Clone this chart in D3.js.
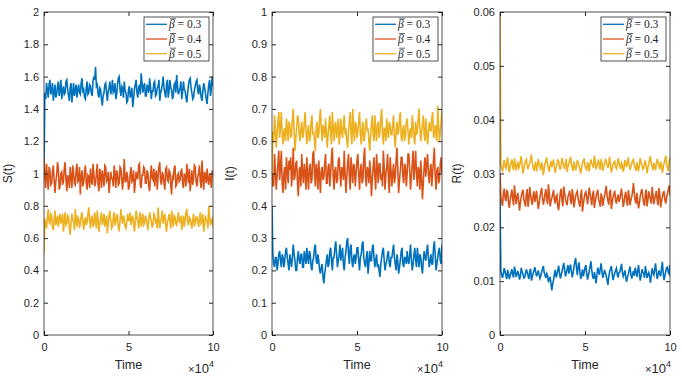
<!DOCTYPE html>
<html>
<head>
<meta charset="utf-8">
<script src="https://cdn.jsdelivr.net/npm/d3@7"></script>
<style>
body { margin: 0; background: #fff; }
text { font-family: "Liberation Sans", Arial, sans-serif; fill: #262626; }
</style>
</head>
<body>
<script>
// sample times (every 500 steps, 0 .. 1e5)
const nPts = 201
const tStep = 500

const legendLabels = ['0.3', '0.4', '0.5']
const colors = ['#0072BD', '#D95319', '#EDB120']

// S(t)
const sBlue = [1.00,
	1.50,1.46,1.56,1.52,1.47,1.55,1.58,1.49,1.51,1.56,1.45,1.50,1.55,1.47,1.49,1.54,1.57,1.48,1.52,1.58,
	1.46,1.51,1.54,1.49,1.50,1.57,1.58,1.52,1.48,1.45,1.53,1.56,1.44,1.50,1.56,1.48,1.51,1.55,1.47,1.52,
	1.55,1.50,1.49,1.56,1.59,1.51,1.52,1.47,1.46,1.53,1.57,1.49,1.50,1.55,1.54,1.50,1.48,1.57,1.60,1.58,
	1.66,1.54,1.55,1.49,1.47,1.53,1.52,1.46,1.42,1.48,1.50,1.55,1.56,1.50,1.45,1.51,1.53,1.57,1.49,1.52,
	1.58,1.50,1.51,1.56,1.46,1.49,1.55,1.59,1.60,1.52,1.48,1.54,1.53,1.47,1.57,1.51,1.50,1.44,1.45,1.52,
	1.54,1.47,1.49,1.53,1.41,1.46,1.52,1.55,1.58,1.50,1.47,1.53,1.55,1.49,1.62,1.56,1.50,1.54,1.56,1.48,
	1.48,1.55,1.53,1.50,1.59,1.54,1.46,1.51,1.51,1.56,1.57,1.48,1.49,1.53,1.54,1.58,1.45,1.50,1.52,1.55,
	1.60,1.53,1.50,1.47,1.55,1.58,1.47,1.51,1.58,1.53,1.52,1.46,1.48,1.55,1.56,1.50,1.61,1.54,1.49,1.51,
	1.53,1.57,1.46,1.50,1.57,1.52,1.51,1.47,1.44,1.50,1.55,1.58,1.59,1.53,1.50,1.46,1.47,1.52,1.54,1.57,
	1.58,1.51,1.49,1.55,1.52,1.47,1.45,1.51,1.56,1.53,1.50,1.46,1.43,1.50,1.55,1.58,1.48,1.52,1.60,1.54]
const sOrange = [1.10,
	0.98,0.91,1.06,0.97,0.90,1.04,1.02,0.93,0.94,1.01,1.05,0.96,0.88,0.95,0.99,1.07,1.03,0.90,0.92,1.00,
	1.01,0.93,0.95,1.03,1.07,0.96,0.89,0.99,0.97,0.91,1.04,0.98,0.91,1.05,1.00,0.94,0.93,1.02,1.06,0.95,
	0.96,1.04,0.87,0.98,1.02,0.92,0.95,1.01,1.05,0.94,0.90,0.99,0.98,0.91,1.03,0.96,0.93,1.06,1.00,0.92,
	0.94,1.00,1.06,0.93,0.89,1.03,0.99,0.91,1.02,0.97,0.92,1.05,1.04,0.95,0.96,1.01,0.88,0.94,1.01,0.97,
	0.97,0.92,1.05,0.99,0.91,1.02,1.00,0.93,0.94,1.04,1.03,0.96,0.90,0.98,1.09,0.95,0.95,1.01,0.98,0.90,
	0.92,1.00,1.04,0.95,0.96,1.02,0.88,0.94,1.01,0.97,0.97,1.05,1.06,0.93,0.91,0.99,0.99,1.04,1.03,0.94,
	0.94,1.02,1.00,0.92,0.89,0.98,1.05,0.97,0.96,1.03,0.92,0.99,1.02,0.90,0.98,1.04,1.07,0.95,0.93,1.01,
	0.99,0.94,0.90,1.03,1.04,0.96,0.95,1.02,1.01,0.93,0.87,0.98,0.97,1.03,1.05,0.92,0.93,0.99,1.00,0.95,
	0.96,1.01,1.03,0.94,0.91,1.00,0.98,0.92,1.06,0.99,0.94,1.03,0.89,0.96,1.02,0.93,0.97,1.05,1.04,0.95,
	0.92,0.98,1.00,1.05,0.95,0.91,1.08,0.97,0.90,1.01,0.99,0.94,1.03,0.96,0.93,1.00,0.97,0.91,1.02,0.98]
const sYellow = [0.50,
	0.72,0.68,0.66,0.73,0.78,0.70,0.69,0.75,0.74,0.67,0.65,0.71,0.77,0.68,0.70,0.74,0.67,0.72,0.75,0.69,
	0.71,0.75,0.64,0.70,0.76,0.68,0.69,0.74,0.73,0.66,0.62,0.70,0.75,0.71,0.70,0.65,0.78,0.72,0.67,0.73,
	0.72,0.67,0.68,0.74,0.76,0.70,0.65,0.71,0.73,0.68,0.70,0.75,0.79,0.71,0.66,0.72,0.74,0.67,0.69,0.76,
	0.71,0.66,0.77,0.72,0.64,0.69,0.72,0.76,0.68,0.71,0.75,0.67,0.70,0.74,0.63,0.69,0.74,0.77,0.71,0.66,
	0.67,0.73,0.76,0.68,0.70,0.75,0.73,0.66,0.65,0.71,0.78,0.72,0.69,0.74,0.72,0.67,0.66,0.70,0.75,0.71,
	0.71,0.76,0.68,0.72,0.74,0.69,0.64,0.70,0.77,0.73,0.70,0.66,0.73,0.76,0.67,0.71,0.75,0.68,0.69,0.74,
	0.72,0.69,0.65,0.71,0.76,0.73,0.70,0.67,0.68,0.75,0.74,0.70,0.71,0.66,0.79,0.72,0.66,0.70,0.73,0.77,
	0.69,0.72,0.75,0.68,0.64,0.70,0.72,0.75,0.70,0.66,0.77,0.71,0.67,0.74,0.73,0.69,0.68,0.72,0.76,0.70,
	0.70,0.74,0.65,0.69,0.74,0.67,0.71,0.76,0.78,0.70,0.68,0.73,0.72,0.69,0.66,0.71,0.75,0.68,0.69,0.73,
	0.73,0.70,0.67,0.72,0.76,0.69,0.70,0.75,0.64,0.68,0.74,0.71,0.71,0.66,0.80,0.73,0.68,0.71,0.72,0.67]

// I(t)
const iBlue = [0.40,
	0.25,0.22,0.21,0.24,0.24,0.20,0.22,0.25,0.26,0.23,0.21,0.25,0.24,0.21,0.23,0.26,0.27,0.24,0.22,0.20,
	0.25,0.23,0.21,0.24,0.28,0.25,0.23,0.20,0.20,0.24,0.26,0.23,0.22,0.25,0.25,0.21,0.21,0.26,0.24,0.22,
	0.27,0.24,0.22,0.26,0.25,0.21,0.20,0.23,0.24,0.27,0.28,0.23,0.22,0.25,0.23,0.20,0.19,0.21,0.22,0.18,
	0.16,0.19,0.21,0.23,0.25,0.21,0.22,0.26,0.27,0.23,0.20,0.24,0.24,0.27,0.29,0.25,0.21,0.23,0.25,0.28,
	0.23,0.25,0.27,0.22,0.20,0.24,0.26,0.29,0.30,0.25,0.22,0.27,0.28,0.23,0.21,0.24,0.25,0.22,0.24,0.27,
	0.27,0.23,0.20,0.24,0.25,0.28,0.29,0.24,0.22,0.21,0.24,0.26,0.19,0.22,0.26,0.23,0.23,0.27,0.28,0.24,
	0.21,0.23,0.25,0.21,0.22,0.20,0.18,0.22,0.24,0.26,0.27,0.23,0.20,0.22,0.23,0.25,0.26,0.22,0.21,0.24,
	0.24,0.26,0.28,0.24,0.22,0.20,0.25,0.23,0.19,0.21,0.23,0.26,0.27,0.22,0.21,0.24,0.24,0.22,0.26,0.23,
	0.22,0.25,0.28,0.23,0.20,0.22,0.25,0.27,0.23,0.21,0.27,0.24,0.21,0.25,0.24,0.21,0.19,0.23,0.26,0.24,
	0.23,0.26,0.28,0.24,0.21,0.23,0.25,0.22,0.22,0.27,0.29,0.25,0.20,0.22,0.24,0.26,0.27,0.23,0.22,0.28]
const iOrange = [0.46,
	0.50,0.46,0.56,0.51,0.45,0.49,0.53,0.57,0.48,0.52,0.57,0.47,0.44,0.50,0.52,0.45,0.55,0.51,0.47,0.54,
	0.51,0.55,0.46,0.50,0.58,0.48,0.49,0.53,0.54,0.47,0.43,0.51,0.52,0.46,0.56,0.50,0.47,0.53,0.50,0.45,
	0.55,0.49,0.45,0.52,0.53,0.47,0.48,0.56,0.57,0.50,0.46,0.53,0.51,0.45,0.54,0.49,0.44,0.51,0.52,0.48,
	0.49,0.53,0.56,0.47,0.47,0.52,0.53,0.46,0.50,0.55,0.58,0.49,0.45,0.51,0.52,0.47,0.48,0.54,0.55,0.50,
	0.46,0.52,0.51,0.48,0.57,0.50,0.44,0.49,0.53,0.56,0.49,0.45,0.55,0.51,0.47,0.53,0.52,0.46,0.50,0.54,
	0.56,0.50,0.45,0.51,0.53,0.47,0.48,0.55,0.58,0.49,0.46,0.52,0.51,0.47,0.54,0.50,0.43,0.48,0.52,0.55,
	0.49,0.45,0.56,0.51,0.47,0.53,0.53,0.48,0.50,0.46,0.57,0.52,0.45,0.50,0.52,0.56,0.48,0.44,0.55,0.51,
	0.46,0.50,0.53,0.47,0.49,0.54,0.58,0.51,0.44,0.48,0.51,0.55,0.55,0.49,0.47,0.53,0.52,0.46,0.50,0.56,
	0.56,0.51,0.45,0.49,0.53,0.57,0.48,0.52,0.57,0.50,0.46,0.52,0.51,0.45,0.54,0.49,0.42,0.47,0.52,0.55,
	0.49,0.53,0.56,0.50,0.47,0.51,0.53,0.46,0.50,0.54,0.58,0.49,0.45,0.51,0.52,0.47,0.48,0.53,0.55,0.50]
const iYellow = [0.50,
	0.63,0.60,0.68,0.64,0.58,0.62,0.66,0.69,0.61,0.65,0.69,0.62,0.59,0.63,0.64,0.60,0.67,0.64,0.60,0.66,
	0.65,0.61,0.62,0.67,0.70,0.63,0.57,0.61,0.64,0.68,0.67,0.62,0.60,0.64,0.66,0.61,0.62,0.66,0.69,0.63,
	0.59,0.63,0.65,0.60,0.61,0.66,0.68,0.62,0.63,0.60,0.57,0.64,0.66,0.61,0.62,0.67,0.70,0.64,0.60,0.65,
	0.64,0.61,0.67,0.63,0.58,0.62,0.65,0.68,0.62,0.59,0.69,0.64,0.60,0.65,0.66,0.61,0.63,0.67,0.59,0.62,
	0.67,0.63,0.61,0.65,0.68,0.62,0.64,0.60,0.58,0.63,0.66,0.69,0.62,0.59,0.70,0.64,0.60,0.66,0.65,0.61,
	0.63,0.66,0.69,0.62,0.59,0.64,0.66,0.60,0.61,0.65,0.67,0.63,0.64,0.60,0.57,0.62,0.65,0.68,0.62,0.60,
	0.68,0.63,0.60,0.65,0.66,0.61,0.63,0.67,0.70,0.62,0.59,0.64,0.64,0.60,0.67,0.63,0.61,0.66,0.65,0.62,
	0.62,0.65,0.68,0.61,0.58,0.63,0.66,0.62,0.63,0.67,0.69,0.61,0.60,0.64,0.65,0.60,0.62,0.66,0.67,0.63,
	0.59,0.63,0.64,0.61,0.68,0.65,0.61,0.59,0.66,0.62,0.63,0.67,0.70,0.64,0.60,0.63,0.65,0.68,0.62,0.60,
	0.67,0.63,0.59,0.62,0.66,0.64,0.63,0.67,0.69,0.62,0.61,0.65,0.64,0.60,0.71,0.65,0.60,0.63,0.66,0.70]

// R(t)
const rBlue = [0.0255,
	0.0118,0.0111,0.0106,0.0115,0.0124,0.0117,0.0110,0.0104,0.0121,0.0114,0.0104,0.0110,0.0116,0.0122,0.0112,0.0107,0.0127,0.0119,0.0108,0.0113,
	0.0119,0.0112,0.0103,0.0109,0.0125,0.0118,0.0113,0.0106,0.0107,0.0115,0.0122,0.0116,0.0110,0.0104,0.0118,0.0123,0.0101,0.0108,0.0115,0.0120,
	0.0126,0.0117,0.0109,0.0114,0.0120,0.0112,0.0105,0.0110,0.0117,0.0123,0.0128,0.0116,0.0111,0.0106,0.0114,0.0110,0.0098,0.0104,0.0108,0.0095,
	0.0083,0.0095,0.0102,0.0113,0.0121,0.0107,0.0112,0.0120,0.0129,0.0116,0.0105,0.0111,0.0118,0.0126,0.0134,0.0121,0.0109,0.0115,0.0123,0.0130,
	0.0114,0.0124,0.0131,0.0118,0.0107,0.0115,0.0126,0.0136,0.0143,0.0125,0.0111,0.0128,0.0135,0.0117,0.0104,0.0112,0.0122,0.0109,0.0116,0.0125,
	0.0130,0.0115,0.0103,0.0111,0.0119,0.0128,0.0137,0.0120,0.0108,0.0104,0.0117,0.0109,0.0096,0.0110,0.0125,0.0118,0.0112,0.0124,0.0133,0.0117,
	0.0106,0.0113,0.0121,0.0115,0.0110,0.0101,0.0093,0.0108,0.0118,0.0123,0.0128,0.0114,0.0102,0.0109,0.0115,0.0120,0.0124,0.0112,0.0107,0.0116,
	0.0117,0.0124,0.0132,0.0116,0.0109,0.0114,0.0120,0.0106,0.0099,0.0108,0.0113,0.0121,0.0127,0.0112,0.0105,0.0113,0.0119,0.0110,0.0125,0.0118,
	0.0108,0.0119,0.0130,0.0113,0.0101,0.0110,0.0122,0.0117,0.0114,0.0106,0.0128,0.0118,0.0106,0.0112,0.0116,0.0109,0.0097,0.0111,0.0124,0.0115,
	0.0111,0.0122,0.0133,0.0117,0.0104,0.0112,0.0120,0.0114,0.0109,0.0124,0.0136,0.0115,0.0102,0.0110,0.0118,0.0125,0.0126,0.0116,0.0113,0.0130]
const rOrange = [0.0300,
	0.0258,0.0247,0.0240,0.0263,0.0272,0.0254,0.0249,0.0268,0.0266,0.0245,0.0236,0.0251,0.0261,0.0270,0.0252,0.0241,0.0278,0.0260,0.0243,0.0256,
	0.0264,0.0248,0.0231,0.0246,0.0257,0.0265,0.0270,0.0253,0.0245,0.0239,0.0262,0.0271,0.0238,0.0252,0.0275,0.0260,0.0250,0.0242,0.0259,0.0267,
	0.0247,0.0257,0.0268,0.0250,0.0234,0.0244,0.0256,0.0266,0.0273,0.0255,0.0242,0.0250,0.0263,0.0271,0.0251,0.0243,0.0280,0.0262,0.0239,0.0249,
	0.0255,0.0262,0.0269,0.0251,0.0244,0.0257,0.0260,0.0240,0.0232,0.0249,0.0265,0.0272,0.0248,0.0239,0.0276,0.0264,0.0253,0.0245,0.0241,0.0258,
	0.0262,0.0268,0.0250,0.0243,0.0271,0.0259,0.0237,0.0248,0.0258,0.0264,0.0267,0.0252,0.0245,0.0238,0.0260,0.0270,0.0229,0.0243,0.0254,0.0263,
	0.0266,0.0255,0.0243,0.0259,0.0274,0.0262,0.0252,0.0241,0.0261,0.0268,0.0236,0.0247,0.0257,0.0264,0.0270,0.0253,0.0246,0.0238,0.0263,0.0256,
	0.0240,0.0251,0.0259,0.0267,0.0277,0.0258,0.0249,0.0242,0.0265,0.0270,0.0234,0.0246,0.0256,0.0262,0.0268,0.0250,0.0244,0.0255,0.0261,0.0247,
	0.0253,0.0264,0.0272,0.0255,0.0238,0.0247,0.0260,0.0266,0.0248,0.0240,0.0269,0.0258,0.0241,0.0251,0.0257,0.0266,0.0282,0.0263,0.0250,0.0244,
	0.0264,0.0249,0.0235,0.0245,0.0258,0.0266,0.0271,0.0256,0.0246,0.0240,0.0262,0.0270,0.0239,0.0250,0.0267,0.0259,0.0252,0.0244,0.0275,0.0261,
	0.0243,0.0252,0.0260,0.0268,0.0249,0.0241,0.0273,0.0262,0.0237,0.0248,0.0256,0.0265,0.0266,0.0251,0.0244,0.0255,0.0263,0.0270,0.0278,0.0259]
const rYellow = [0.0600,
	0.0318,0.0309,0.0305,0.0316,0.0325,0.0314,0.0310,0.0321,0.0330,0.0311,0.0302,0.0313,0.0320,0.0326,0.0312,0.0306,0.0328,0.0317,0.0306,0.0315,
	0.0322,0.0310,0.0314,0.0324,0.0332,0.0315,0.0300,0.0309,0.0318,0.0323,0.0326,0.0313,0.0308,0.0316,0.0320,0.0327,0.0335,0.0319,0.0311,0.0305,
	0.0316,0.0322,0.0304,0.0312,0.0327,0.0318,0.0313,0.0306,0.0321,0.0314,0.0297,0.0308,0.0319,0.0324,0.0330,0.0316,0.0309,0.0303,0.0317,0.0323,
	0.0312,0.0319,0.0326,0.0311,0.0301,0.0310,0.0318,0.0325,0.0323,0.0312,0.0307,0.0316,0.0329,0.0320,0.0314,0.0308,0.0320,0.0327,0.0303,0.0313,
	0.0318,0.0324,0.0331,0.0317,0.0310,0.0305,0.0322,0.0315,0.0306,0.0313,0.0325,0.0320,0.0315,0.0308,0.0300,0.0311,0.0319,0.0324,0.0328,0.0314,
	0.0311,0.0305,0.0321,0.0315,0.0304,0.0317,0.0326,0.0319,0.0316,0.0310,0.0333,0.0322,0.0308,0.0314,0.0320,0.0326,0.0313,0.0307,0.0327,0.0318,
	0.0305,0.0313,0.0318,0.0326,0.0324,0.0315,0.0310,0.0319,0.0331,0.0314,0.0302,0.0309,0.0317,0.0321,0.0323,0.0312,0.0309,0.0316,0.0328,0.0320,
	0.0314,0.0308,0.0320,0.0316,0.0303,0.0312,0.0325,0.0318,0.0312,0.0322,0.0330,0.0315,0.0307,0.0313,0.0319,0.0324,0.0326,0.0314,0.0311,0.0305,
	0.0321,0.0312,0.0304,0.0316,0.0329,0.0320,0.0315,0.0308,0.0310,0.0319,0.0324,0.0313,0.0300,0.0311,0.0318,0.0326,0.0332,0.0317,0.0313,0.0306,
	0.0320,0.0314,0.0306,0.0318,0.0327,0.0321,0.0314,0.0308,0.0322,0.0316,0.0301,0.0310,0.0319,0.0325,0.0333,0.0318,0.0310,0.0304,0.0324,0.0329]

const sTicks = [0,0.2,0.4,0.6,0.8,1,1.2,1.4,1.6,1.8,2]
const iTicks = [0,0.1,0.2,0.3,0.4,0.5,0.6,0.7,0.8,0.9,1]
const rTicks = [0,0.01,0.02,0.03,0.04,0.05,0.06]
const xTicks = [0, 50000, 100000]

// layout
const svgw = 682
const svgh = 378
const yTop = 12
const yBot = 335

const panels = [
	{ left: 44, right: 213, ymax: 2, ticks: sTicks, label: 'S(t)', labelX: 12, data: [sBlue, sOrange, sYellow] },
	{ left: 272, right: 442, ymax: 1, ticks: iTicks, label: 'I(t)', labelX: 234, data: [iBlue, iOrange, iYellow] },
	{ left: 500, right: 670, ymax: 0.06, ticks: rTicks, label: 'R(t)', labelX: 461, data: [rBlue, rOrange, rYellow] }
]

const svg = d3.select('body').append('svg').attr('width', svgw).attr('height', svgh)

panels.forEach((p, pi) => {
	const xScale = d3.scaleLinear().domain([0, 100000]).range([p.left, p.right])
	const yScale = d3.scaleLinear().domain([0, p.ymax]).range([yBot, yTop])

	const g = svg.append('g')

	g.append('clipPath').attr('id', 'clip' + pi)
		.append('rect')
		.attr('x', p.left).attr('y', yTop)
		.attr('width', p.right - p.left).attr('height', yBot - yTop)

	const line = d3.line()
		.x((d, i) => xScale(i * tStep))
		.y(d => yScale(d))

	g.append('g').attr('clip-path', `url(#clip${pi})`)
		.selectAll('path')
		.data(p.data)
		.enter()
		.append('path')
		.attr('d', d => line(d.slice(0, nPts)))
		.attr('fill', 'none')
		.attr('stroke', (d, i) => colors[i])
		.attr('stroke-width', 1.6)

	const fmt = d => String(+d.toFixed(3))

	const styleAxis = sel => {
		sel.select('.domain').remove()
		sel.selectAll('line').attr('stroke', '#262626')
		sel.selectAll('text').attr('font-size', 11).attr('fill', '#262626')
			.style('font-family', '"Liberation Sans", Arial, sans-serif')
	}

	g.append('g').attr('transform', `translate(${p.left},0)`)
		.call(d3.axisLeft(yScale).tickValues(p.ticks).tickFormat(fmt).tickSize(-4).tickPadding(5))
		.call(styleAxis)
	g.append('g').attr('transform', `translate(${p.right},0)`)
		.call(d3.axisRight(yScale).tickValues(p.ticks).tickFormat('').tickSize(-4))
		.call(styleAxis)
	g.append('g').attr('transform', `translate(0,${yBot})`)
		.call(d3.axisBottom(xScale).tickValues(xTicks).tickFormat(d => d / 10000).tickSize(-4).tickPadding(8))
		.call(styleAxis)
	g.append('g').attr('transform', `translate(0,${yTop})`)
		.call(d3.axisTop(xScale).tickValues(xTicks).tickFormat('').tickSize(-4))
		.call(styleAxis)

	// box
	g.append('rect')
		.attr('x', p.left).attr('y', yTop)
		.attr('width', p.right - p.left).attr('height', yBot - yTop)
		.attr('fill', 'none').attr('stroke', '#262626').attr('stroke-width', 0.8)

	// labels
	const mid = (p.left + p.right) / 2
	g.append('text').attr('x', mid).attr('y', 369)
		.attr('text-anchor', 'middle').attr('font-size', 12.5).text('Time')
	const ex = g.append('text').attr('x', p.right + 1).attr('y', 373)
		.attr('text-anchor', 'end').attr('font-size', 13).attr('fill', '#404040')
	ex.append('tspan').attr('font-size', 11).text('×')
	ex.append('tspan').text('10')
	ex.append('tspan').attr('font-size', 9).attr('dy', -6).text('4')

	g.append('text')
		.attr('transform', `translate(${p.labelX},${(yTop + yBot) / 2}) rotate(-90)`)
		.attr('text-anchor', 'middle').attr('font-size', 12).text(p.label)

	// legend
	const lx = p.right - 69
	const ly = 17
	const lg = g.append('g')
	lg.append('rect').attr('x', lx).attr('y', ly).attr('width', 65).attr('height', 44)
		.attr('fill', '#fff').attr('stroke', '#262626').attr('stroke-width', 0.8)
	legendLabels.forEach((lab, i) => {
		const yy = ly + 7.3 + i * 14.7
		lg.append('line').attr('x1', lx + 2).attr('x2', lx + 23).attr('y1', yy).attr('y2', yy)
			.attr('stroke', colors[i]).attr('stroke-width', 1.3)
		const t = lg.append('text').attr('x', lx + 25).attr('y', yy + 4)
			.attr('font-size', 11.5).style('font-family', '"Liberation Serif", "DejaVu Serif", serif')
		t.append('tspan').attr('font-style', 'italic').text('β')
		t.append('tspan').text(' = ' + lab)
		lg.append('line').attr('x1', lx + 26).attr('x2', lx + 32).attr('y1', yy - 5.5).attr('y2', yy - 5.5)
			.attr('stroke', '#262626').attr('stroke-width', 0.7)
	})
})
</script>
</body>
</html>
